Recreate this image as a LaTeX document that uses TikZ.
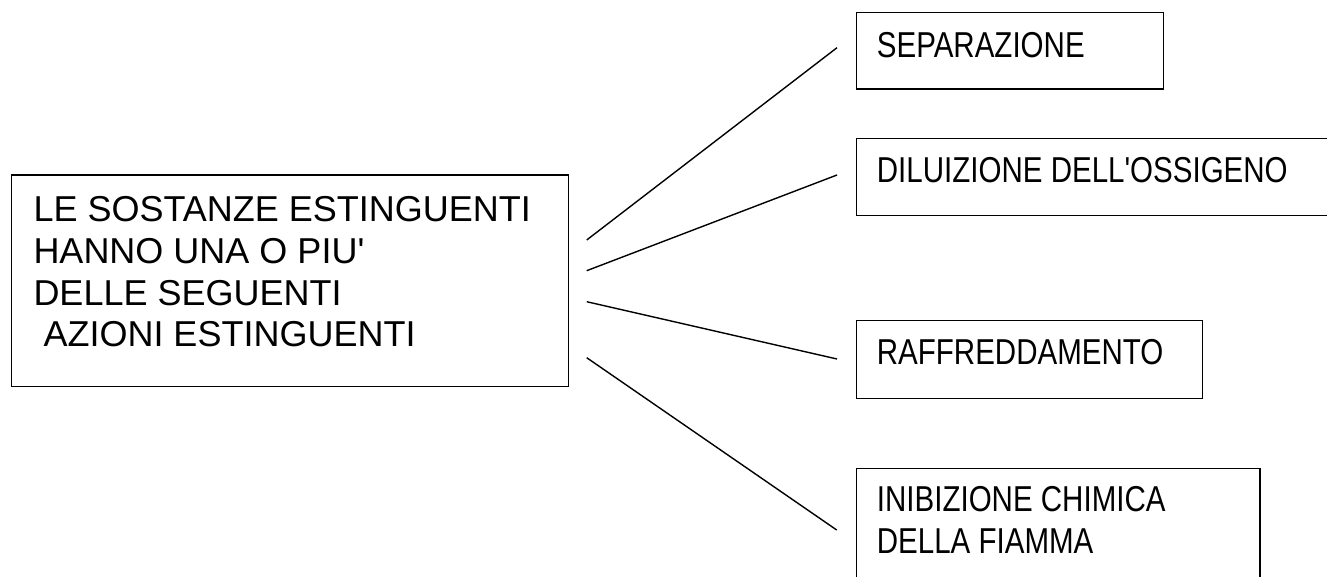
\documentclass[tikz,border=0pt]{standalone}
\usepackage{fontspec}
\usepackage{graphicx}
\setmainfont{Liberation Sans}
\usetikzlibrary{calc}
\newcommand{\narrowtxt}[1]{\scalebox{0.82}[1]{#1}}
\tikzset{
  boxnode/.style={draw=black, line width=1.4pt, rectangle, inner sep=0pt, anchor=north west},
  txtnode/.style={inner sep=0pt, anchor=north west, align=left, font=\fontsize{36}{41.7}\selectfont},
  link/.style={draw=black, line width=1.4pt}
}
\begin{document}
\begin{tikzpicture}[x=1pt, y=-1pt]
\useasboundingbox (0,0) rectangle (1327,577);
% boxes
\node[boxnode, minimum width=556.7pt, minimum height=211.7pt] (main) at (11,174.3) {};
\node[boxnode, minimum width=307.3pt, minimum height=76.6pt] (sep) at (855.7,11.7) {};
\node[boxnode, minimum width=480pt, minimum height=77pt] (dil) at (855.7,137.7) {};
\node[boxnode, minimum width=346.3pt, minimum height=77.5pt] (raf) at (855.7,320) {};
\node[boxnode, minimum width=403.6pt, minimum height=130pt] (ini) at (855.7,467.7) {};
% texts
\node[txtnode] (maintxt) at (33.3,196.3) {LE SOSTANZE ESTINGUENTI\\HANNO UNA O PIU\textquotesingle\\DELLE SEGUENTI\\\hspace*{10pt}AZIONI ESTINGUENTI};
\node[txtnode] (septxt) at (876.7,32.6) {\narrowtxt{SEPARAZIONE}};
\node[txtnode] (diltxt) at (876.7,156.8) {\narrowtxt{DILUIZIONE DELL\textquotesingle OSSIGENO}};
\node[txtnode] (raftxt) at (876.7,339.5) {\narrowtxt{RAFFREDDAMENTO}};
\node[txtnode] (initxt) at (876.7,486.5) {\narrowtxt{INIBIZIONE CHIMICA}\\\narrowtxt{DELLA FIAMMA}};
% connector end points
\coordinate (m1) at (586.7,240);
\coordinate (m2) at (586.7,270.7);
\coordinate (m3) at (586.7,301.7);
\coordinate (m4) at (586.7,357.7);
\coordinate (e1) at (837,47.7);
\coordinate (e2) at (837,175);
\coordinate (e3) at (837,359);
\coordinate (e4) at (836.7,530);
\draw[link] (m1) -- (e1);
\draw[link] (m2) -- (e2);
\draw[link] (m3) -- (e3);
\draw[link] (m4) -- (e4);
\end{tikzpicture}
\end{document}
